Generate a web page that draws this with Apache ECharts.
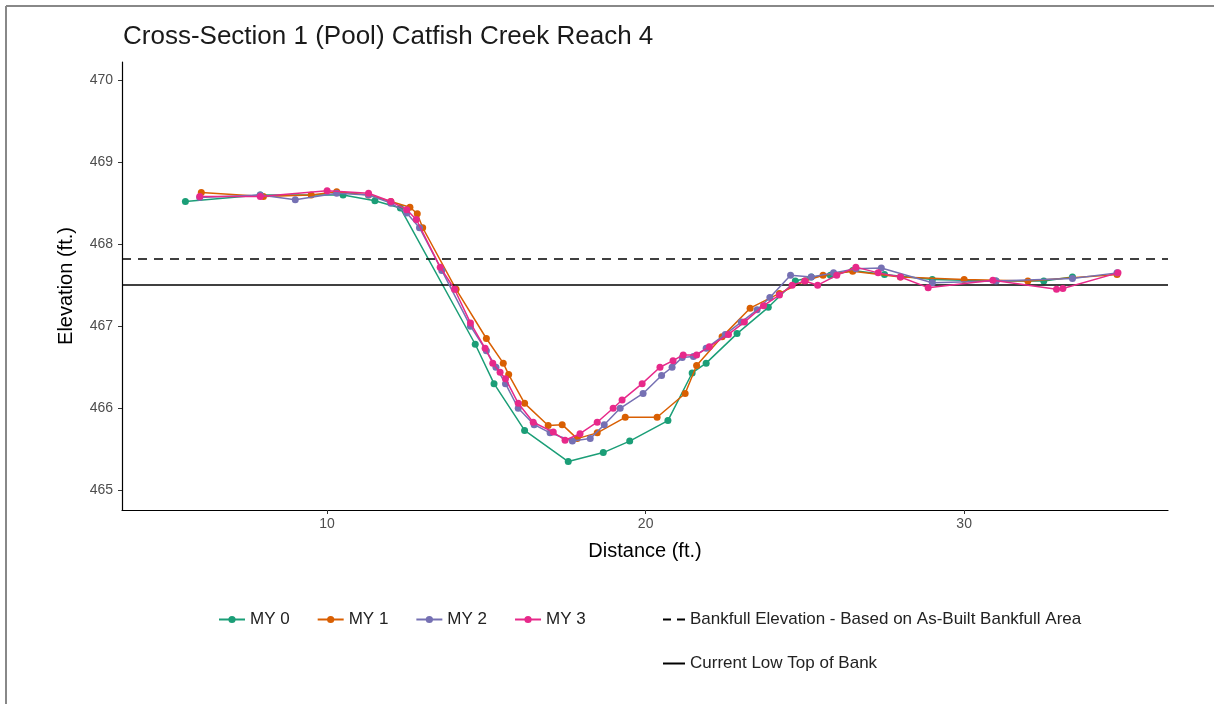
<!DOCTYPE html>
<html>
<head>
<meta charset="utf-8">
<script src="https://cdn.jsdelivr.net/npm/echarts@6/dist/echarts.min.js"></script>
<style>
html,body{margin:0;padding:0;background:#fff;}
#c{width:1214px;height:704px;}
</style>
</head>
<body>
<div id="c"></div>
<script>
const seriesNames = ['MY 0', 'MY 1', 'MY 2', 'MY 3'];
const colors = ['#1b9e77', '#d95f02', '#7570b3', '#e7298a'];

const my0 = [[5.55,468.52],[7.9,468.6],[10.5,468.6],[11.5,468.53],[12.3,468.44],[14.65,466.78],[15.24,466.3],[16.2,465.73],[17.57,465.35],[18.67,465.46],[19.5,465.6],[20.7,465.85],[21.46,466.43],[21.9,466.55],[22.87,466.91],[23.85,467.23],[24.7,467.55],[25.2,467.6],[25.8,467.62],[26.5,467.68],[27.5,467.63],[29,467.57],[31,467.55],[32.5,467.55],[33.4,467.6]];
const my1 = [[6.05,468.63],[8,468.58],[9.5,468.6],[10.3,468.64],[11.3,468.6],[12.0,468.52],[12.6,468.45],[12.83,468.37],[13.0,468.2],[14.05,467.45],[15.0,466.85],[15.53,466.55],[15.7,466.41],[16.2,466.06],[16.94,465.79],[17.38,465.8],[17.85,465.63],[18.48,465.7],[19.36,465.89],[20.36,465.89],[21.24,466.18],[21.6,466.52],[22.4,466.87],[23.28,467.22],[24.2,467.4],[25.0,467.55],[25.57,467.62],[26.5,467.67],[28,467.6],[30,467.57],[32,467.55],[34.8,467.63]];
const my2 = [[6.0,468.57],[7.9,468.6],[9.0,468.54],[10.3,468.62],[11.3,468.6],[12.0,468.5],[12.5,468.38],[12.9,468.2],[13.6,467.68],[14.5,467.0],[15.0,466.7],[15.3,466.5],[15.6,466.3],[16.0,466.0],[16.5,465.8],[17.0,465.7],[17.7,465.6],[18.26,465.63],[18.7,465.8],[19.2,466.0],[19.92,466.18],[20.5,466.4],[20.83,466.5],[21.15,466.62],[21.5,466.63],[21.9,466.73],[22.5,466.9],[23.0,467.05],[23.5,467.2],[23.9,467.35],[24.55,467.62],[25.2,467.6],[25.9,467.65],[26.6,467.7],[27.4,467.71],[29,467.53],[31,467.55],[33.4,467.58],[34.8,467.65]];
const my3 = [[6.0,468.58],[7.9,468.58],[10.0,468.65],[11.3,468.62],[12.0,468.52],[12.5,468.42],[12.8,468.3],[13.55,467.72],[14.0,467.45],[14.5,467.04],[14.96,466.73],[15.2,466.55],[15.43,466.44],[15.6,466.36],[16.0,466.06],[16.47,465.83],[17.1,465.71],[17.47,465.61],[17.94,465.69],[18.48,465.83],[18.98,466.0],[19.26,466.1],[19.89,466.3],[20.45,466.5],[20.86,466.58],[21.18,466.65],[21.6,466.65],[22.0,466.75],[22.6,466.9],[23.1,467.05],[23.7,467.25],[24.2,467.38],[24.6,467.5],[25.0,467.55],[25.4,467.5],[26.0,467.62],[26.6,467.72],[27.3,467.65],[28.0,467.6],[28.87,467.47],[30.9,467.56],[32.9,467.45],[33.1,467.46],[34.83,467.65]];
const seriesData = [my0, my1, my2, my3];

const bankfullName = 'Bankfull Elevation - Based on As-Built Bankfull Area';
const bankfullElevation = 467.82;
const topOfBankName = 'Current Low Top of Bank';
const topOfBankElevation = 467.51;

const xTicks = [10, 20, 30];
const yTicks = [465, 466, 467, 468, 469, 470];
const xRange = [3.56, 36.4];
const yRange = [464.76, 470.22];

const FONT = '"Liberation Sans", Arial, Helvetica, sans-serif';

const chart = echarts.init(document.getElementById('c'), null, {renderer: 'canvas'});

const lineSeries = seriesNames.map((n, i) => ({
  name: n,
  type: 'line',
  data: seriesData[i],
  symbol: 'circle',
  symbolSize: 7,
  showSymbol: true,
  color: colors[i],
  lineStyle: {width: 1.5, color: colors[i]},
  itemStyle: {color: colors[i]},
  z: 3 + i,
  animation: false
}));

function refLine(name, value, type) {
  return {
    name: name,
    type: 'line',
    data: [],
    symbol: 'none',
    color: '#000',
    itemStyle: {color: '#000'},
    lineStyle: {color: '#000', width: 1.6, type: type},
    markLine: {
      silent: true,
      symbol: 'none',
      label: {show: false},
      lineStyle: {color: '#000', width: 1.6, type: type},
      data: [{yAxis: value}],
      animation: false
    },
    z: 2,
    animation: false
  };
}

const option = {
  backgroundColor: '#fff',
  animation: false,
  title: {
    text: 'Cross-Section 1 (Pool) Catfish Creek Reach 4',
    left: 118, top: 19,
    textStyle: {fontFamily: FONT, fontSize: 26, fontWeight: 'normal', color: '#1a1a1a'}
  },
  grid: {left: 122, right: 46, top: 62, bottom: 194, containLabel: false},
  xAxis: {
    type: 'value',
    min: xRange[0], max: xRange[1],
    name: 'Distance (ft.)',
    nameLocation: 'middle',
    nameGap: 31,
    nameTextStyle: {fontFamily: FONT, fontSize: 20, color: '#000'},
    axisLine: {show: true, onZero: false, lineStyle: {color: '#000', width: 1.2}},
    axisTick: {show: true, length: 4, customValues: xTicks, lineStyle: {color: '#333'}},
    axisLabel: {customValues: xTicks, fontFamily: FONT, fontSize: 14, color: '#4d4d4d', margin: 7},
    splitLine: {show: false}
  },
  yAxis: {
    type: 'value',
    min: yRange[0], max: yRange[1],
    name: 'Elevation (ft.)',
    nameLocation: 'middle',
    nameGap: 46,
    nameTextStyle: {fontFamily: FONT, fontSize: 20, color: '#000'},
    axisLine: {show: true, onZero: false, lineStyle: {color: '#000', width: 1.2}},
    axisTick: {show: true, length: 4, customValues: yTicks, lineStyle: {color: '#333'}},
    axisLabel: {customValues: yTicks, fontFamily: FONT, fontSize: 14, color: '#4d4d4d', margin: 9},
    splitLine: {show: false}
  },
  legend: [
    {
      data: seriesNames,
      left: 213, top: 606,
      orient: 'horizontal',
      itemWidth: 26, itemHeight: 9, itemGap: 27,
      textStyle: {fontFamily: FONT, fontSize: 17, color: '#222'}
    },
    {
      data: [
        {name: bankfullName, icon: 'path://M0,0H8V2H0Z M14,0H22V2H14Z'},
        {name: topOfBankName, icon: 'rect'}
      ],
      left: 658, top: 606,
      orient: 'vertical',
      itemWidth: 22, itemHeight: 2, itemGap: 27,
      textStyle: {fontFamily: FONT, fontSize: 17, color: '#222'}
    }
  ],
  graphic: [
    {type: 'line', shape: {x1: 6, y1: 6, x2: 1214, y2: 6}, style: {stroke: '#888', lineWidth: 2}, silent: true},
    {type: 'line', shape: {x1: 6, y1: 6, x2: 6, y2: 704}, style: {stroke: '#888', lineWidth: 2}, silent: true}
  ],
  series: [
    refLine(bankfullName, bankfullElevation, [9, 7]),
    refLine(topOfBankName, topOfBankElevation, 'solid')
  ].concat(lineSeries)
};

chart.setOption(option);
</script>
</body>
</html>
